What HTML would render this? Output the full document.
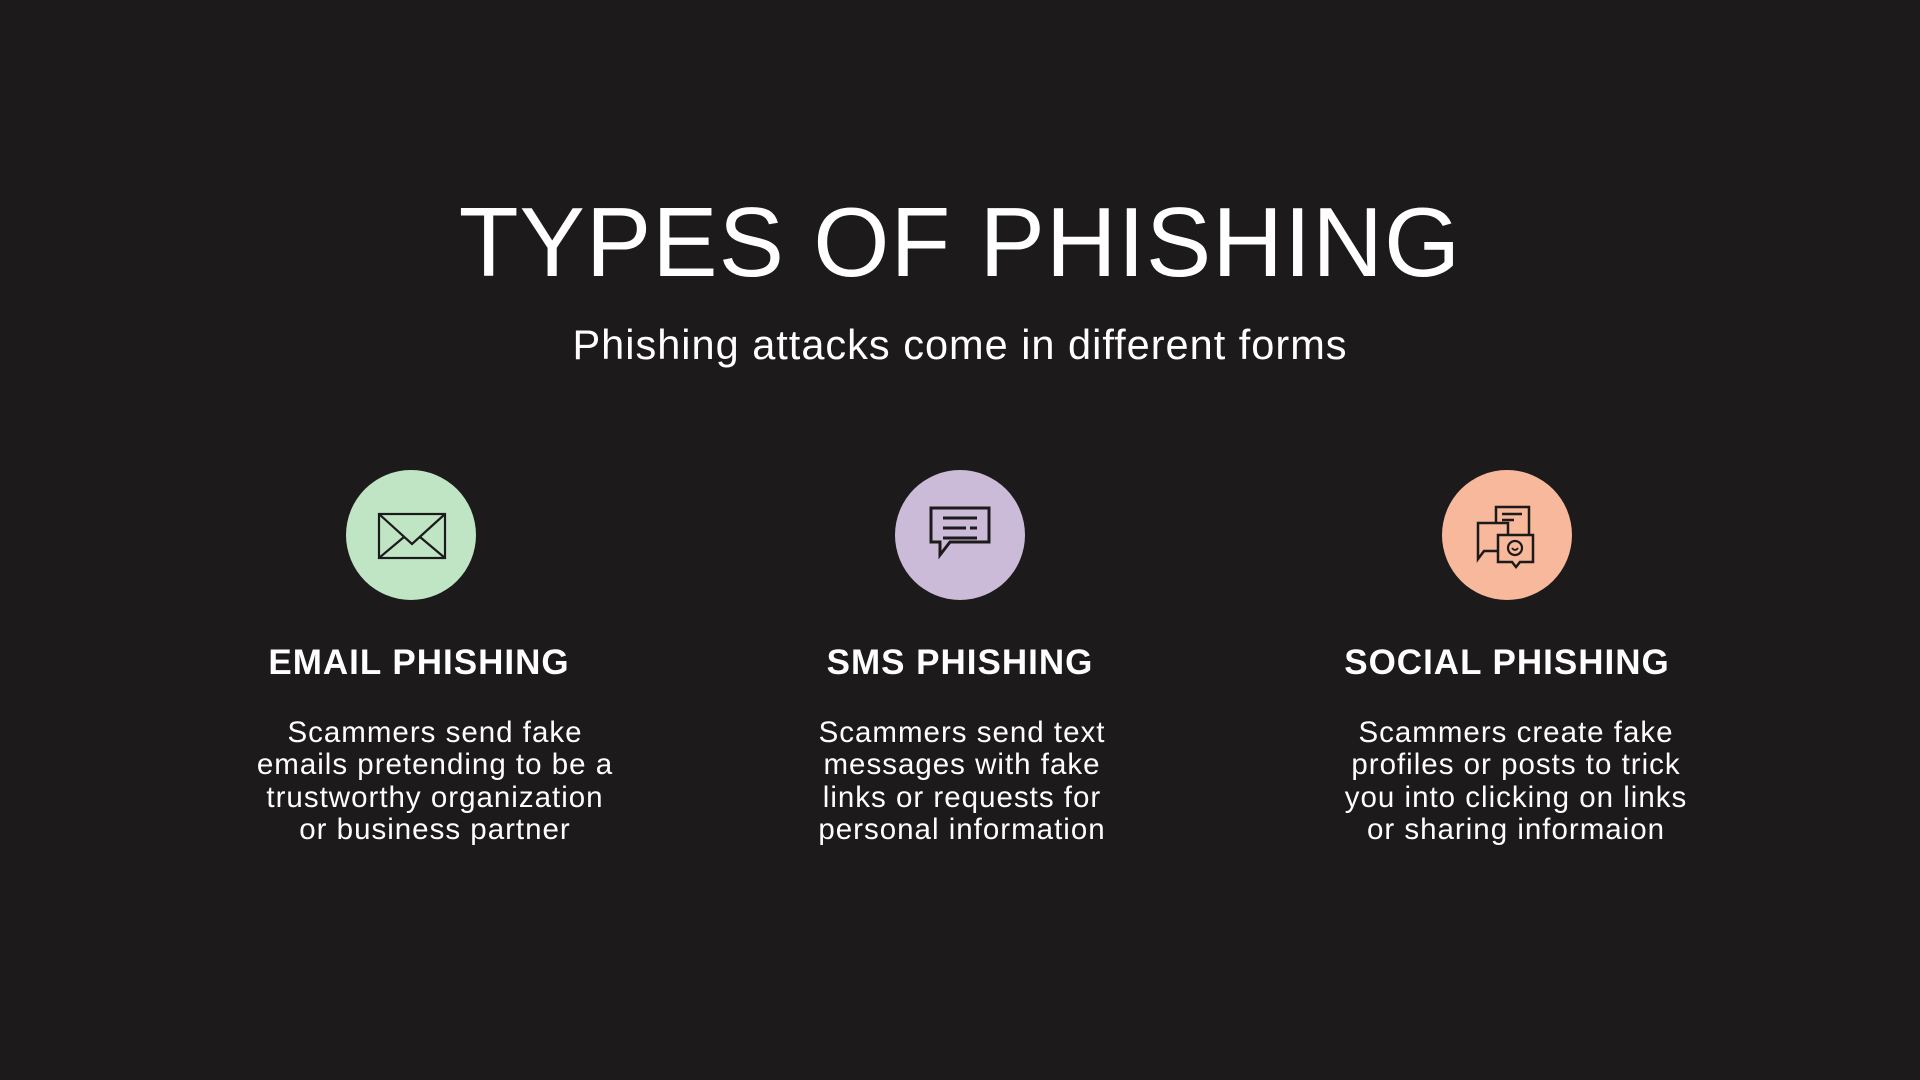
<!DOCTYPE html>
<html><head><meta charset="utf-8"><style>
html,body{margin:0;padding:0;}
body{width:1920px;height:1080px;background:#1c1a1b;position:relative;overflow:hidden;font-family:"DejaVu Sans","Liberation Sans",sans-serif;color:#fff;}
.t{position:absolute;left:0;width:1920px;text-align:center;}
.title{top:182px;font-size:98px;font-weight:300;letter-spacing:1px;line-height:120px;font-family:"Liberation Sans",sans-serif;}
.sub{top:320px;font-size:41.5px;line-height:50px;font-family:"Liberation Sans",sans-serif;letter-spacing:1px;}
.c{position:absolute;width:130px;height:130px;border-radius:50%;top:470px;}
.col{position:absolute;width:500px;text-align:center;}
.h{top:641px;font-size:35px;font-weight:bold;line-height:44px;font-family:"Liberation Sans",sans-serif;letter-spacing:1px;}
.b{top:717px;font-size:29.5px;line-height:32.3px;font-family:"Liberation Sans",sans-serif;letter-spacing:1px;}
svg{position:absolute;left:0;top:0;}
</style></head><body>
<div class="t title">TYPES OF PHISHING</div>
<div class="t sub">Phishing attacks come in different forms</div>

<div class="c" style="left:346px;background:#bfe5c4"></div>
<div class="c" style="left:895px;background:#cbbbd9"></div>
<div class="c" style="left:1442px;background:#f7b89b"></div>

<svg width="1920" height="1080" fill="none" stroke="#1c1a1b" stroke-width="2.2">
  <rect x="379" y="514" width="66" height="44"/>
  <polyline points="379,514 412,544 445,514"/>
  <line x1="379" y1="558" x2="404" y2="537"/>
  <line x1="445" y1="558" x2="420" y2="537"/>
  <path d="M931 508 h58 v34 h-39 l-10 13 v-13 h-9 z" stroke-width="3"/>
  <line x1="943" y1="518" x2="977" y2="518" stroke-width="3"/>
  <line x1="943" y1="528" x2="966" y2="528" stroke-width="3"/>
  <line x1="970" y1="528" x2="977" y2="528" stroke-width="3"/>
  <line x1="943" y1="538" x2="977" y2="538" stroke-width="3"/>
  <path d="M1496 507 h33 v30 h-33 z" stroke-width="2.5"/>
  <line x1="1502" y1="514" x2="1522" y2="514" stroke-width="2.5"/>
  <line x1="1502" y1="520" x2="1514" y2="520" stroke-width="2.5"/>
  <path d="M1478 523 h30 v28 h-24 l-6 8 z" stroke-width="2.5" fill="#f7b89b"/>
  <path d="M1498 535 h35 v27 h-13 l-4 5 l-4 -5 h-14 z" stroke-width="2.5" fill="#f7b89b"/>
  <circle cx="1515" cy="548" r="7" stroke-width="2.2"/>
  <path d="M1512 548 q3 4 6 0" stroke-width="1.8"/>
</svg>

<div class="col h" style="left:169px">EMAIL PHISHING</div>
<div class="col h" style="left:710px">SMS PHISHING</div>
<div class="col h" style="left:1257px">SOCIAL PHISHING</div>

<div class="col b" style="left:185px">Scammers send fake<br>emails pretending to be a<br>trustworthy organization<br>or business partner</div>
<div class="col b" style="left:712px">Scammers send text<br>messages with fake<br>links or requests for<br>personal information</div>
<div class="col b" style="left:1266px">Scammers create fake<br>profiles or posts to trick<br>you into clicking on links<br>or sharing informaion</div>
</body></html>
